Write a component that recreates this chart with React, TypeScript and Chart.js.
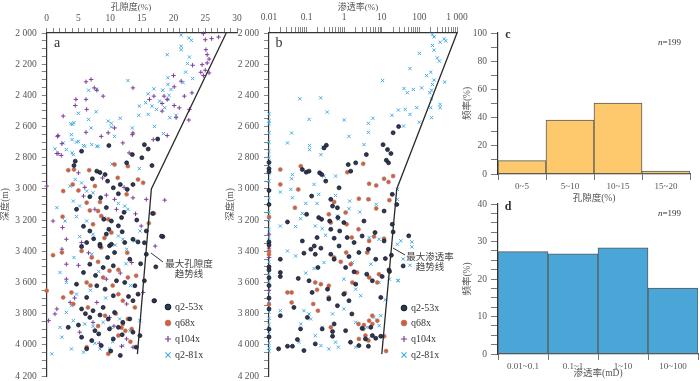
import React, { useEffect, useRef } from 'react';
import { Chart, registerables } from 'chart.js';
Chart.register(...registerables);

const FONT = '"Liberation Serif", "Times New Roman", "Noto Sans CJK SC", serif';

// ---------- data ----------
// panel a: [porosity %, depth m]
const aQ2_53x: number[][] = [[9.8,2722],[13.5,2780],[15.4,2716],[16,2744],[16.6,2850],[12.6,2833],[4.5,2822],[5.5,2758],[4.3,2850],[7.9,2886],[8.4,2895],[9.2,2908],[9.6,2950],[10.5,2993],[11.6,2972],[11.3,3031],[12.7,3003],[13.6,2972],[6.8,3050],[8.5,3057],[9.4,3120],[4.7,3131],[10.2,3206],[9.8,3259],[9,3195],[11.8,3184],[15.7,3270],[18.3,3306],[9.4,3290],[11.3,3237],[5.8,3240],[6.8,3270],[8.4,3355],[9.9,3365],[13.6,3323],[15.4,3345],[5.5,3370],[6.3,3344],[8.4,3366],[10.2,3355],[12.3,3344],[14.4,3340],[10.7,3408],[6.8,3483],[8.9,3504],[10.5,3493],[13.1,3451],[15.7,3419],[5.8,3536],[4.7,3611],[7.9,3621],[9.2,3643],[11,3589],[12.3,3600],[13.9,3621],[15.4,3589],[17,3717],[6.3,3696],[10.5,3685],[13.6,3717],[14.4,3675],[5.5,3770],[7.3,3781],[8.9,3760],[6.8,3824],[8.4,3809],[10.7,3792],[12,3856],[13.1,3834],[3.4,3888],[5,3873],[7.6,3909],[9.9,3898],[11.3,3888],[13.6,3919],[5.5,3951],[7.1,3973],[10.5,3962],[14.7,3941],[6.3,4026],[8.6,4005],[14.1,4015],[11.6,4068],[17.2,3500],[16.9,3718],[18.1,3303],[16.7,3157],[17.5,2680],[15,2800],[7.4,3320],[11.9,3275],[9.6,3440],[7.7,3555],[12.9,3690],[9.7,3835],[11.9,3935],[8.2,3930],[10.1,4040],[6.1,3800],[14.8,3480],[12.2,3150],[7.2,2935],[14.2,3200]];
const aQ68x: number[][] = [[3.4,2880],[4.3,2876],[6.7,2880],[10.7,2844],[11.2,2929],[12.8,2854],[14.4,2940],[15.2,2961],[2.6,3014],[4.1,2971],[5,3010],[7.6,2982],[12.6,3035],[8.4,3084],[6.3,3088],[2.5,3178],[6.8,3138],[8.1,3142],[8.6,3174],[9.7,3195],[7.3,3227],[10.2,3280],[8.6,3376],[16.9,3157],[16.1,3220],[1,3425],[2.4,3408],[5.5,3398],[8.1,3468],[8.9,3568],[9.9,3525],[11.3,3519],[12.8,3568],[6.3,3600],[6.9,3620],[3.9,3664],[2.6,3696],[12,3717],[11.3,3675],[4.2,3738],[6.5,3760],[9.2,3813],[12.8,3834],[12,3866],[13.4,3898],[6.3,4015],[11.3,3941],[0,3653],[14.1,3557],[9.7,4058],[11.8,3890],[12.4,3910],[10.9,3800],[13.9,3760],[9.1,3315],[12.7,3410],[7.1,3440],[10.4,3620],[13.2,3980],[8.1,3880]];
const aQ104x: number[][] = [[24.7,2004],[25,2043],[26,2036],[27.1,2026],[25.1,2107],[25.3,2139],[25.6,2167],[25.3,2192],[24.5,2203],[23,2207],[25,2239],[24.3,2252],[25.6,2256],[24.7,2273],[20,2273],[21.2,2309],[20.1,2345],[22.9,2384],[21.7,2405],[19,2426],[18.2,2452],[20.1,2465],[20.9,2480],[16.2,2426],[16.9,2405],[18.5,2405],[13.6,2352],[22.5,2490],[22.4,2558],[20.4,2543],[18.2,2501],[7,2298],[6.2,2426],[4.6,2426],[6.2,2313],[7.5,2352],[7.9,2367],[8.9,2405],[2.6,2533],[6.3,2490],[4.5,2465],[1.7,2663],[2.4,2710],[1.6,2773],[6.2,2637],[8.6,2663],[10.7,2609],[13.5,2652],[19,2658],[13,2769],[0,2982],[1.8,2658],[1.8,2773],[2.3,2785],[5,2897],[5.8,3046],[9.4,3040],[2.5,3248],[10.7,3067],[13.6,3057],[18.6,3072],[14.9,3238],[1,3206],[7.6,3131],[3.1,3323],[5.5,3344],[13.6,2641],[9.7,2640],[12,2705],[16.8,2684],[15.7,3067],[11,3131],[2.4,3387],[3.1,3483],[5,3490],[1.6,3770],[1.3,3802],[3.7,3728],[7.9,3728],[12.6,3738],[5.2,3919],[7.3,3856],[9.9,3824],[12.6,3962],[11.8,4009],[13.6,4015],[0.3,3845],[13.4,3472],[15.2,3664],[3.1,3579],[9.4,3579],[17.1,3367],[6,2990],[8.8,2930],[12.2,2990],[14,3160],[4.4,3700],[10.6,3880],[8.3,3990],[6.6,3410],[11.6,3540]];
const aQ2_81x: number[][] = [[21.2,2013],[21.2,2085],[21.2,2107],[22.4,2032],[22.8,2047],[19,2139],[22.5,2154],[22.2,2196],[19.1,2287],[23,2292],[21.9,2251],[21.5,2318],[19.1,2330],[19.6,2362],[18.3,2367],[16.9,2358],[16,2390],[19.3,2400],[19.1,2426],[15.6,2447],[14.6,2469],[16.6,2469],[17.8,2437],[18.6,2479],[17.3,2490],[14.5,2528],[16,2522],[12.8,2305],[6.6,2367],[7.9,2362],[5,2515],[4.3,2575],[6.6,2554],[7.8,2505],[9.7,2565],[10.2,2579],[11.6,2547],[19.4,2543],[20.4,2528],[4.1,2586],[3.8,2582],[7,2609],[10.2,2603],[4,2684],[2.6,2705],[1.3,2743],[4.7,2700],[5.8,2722],[7.9,2726],[4,2769],[18.4,2645],[17,2599],[13.5,2609],[3.9,2652],[5,2695],[3.1,2748],[4.2,2780],[6,2727],[7.1,2716],[8.1,2727],[10.7,2663],[4.5,2940],[5.5,2961],[3.7,2982],[6.3,3014],[7.3,3025],[1.6,3120],[4.2,3078],[5.2,3110],[11.3,3093],[12.3,3110],[12.8,3131],[4.7,3178],[6.3,3206],[2.9,3206],[11.3,3302],[14.7,3270],[12,3323],[5.2,3306],[7.3,3291],[2.1,3536],[3.1,3600],[4.7,3675],[3.9,3749],[3.1,3792],[2.1,3888],[4.2,3845],[6,3866],[7.3,3881],[8.9,3856],[10.2,3888],[11.5,3834],[2.4,3951],[0.8,4058],[3.9,4026],[5.8,4047],[8.4,4026],[9.9,4026],[12,4005],[13.1,3909],[14.7,3845],[5.5,3366],[7.1,3419],[12.6,3387],[13.9,3334],[14.6,2870],[10.3,2840],[8.2,3530],[12.5,3480],[9.1,3185],[10.8,3360],[4.3,3440],[6.9,3650],[9.3,3700],[13.2,3620],[10.4,3980],[7.6,3990]];
const aTrend: number[][] = [[28.3,2000],[16.5,3000],[14.3,4060]];

// panel b: [permeability, depth m]
const bQ2_53x: number[][] = [[0.335,2720],[0.29,2737],[3.88,2780],[10.8,2716],[14.2,2748],[17.5,2773],[13.2,2816],[15.1,2833],[2.02,2833],[1.28,2844],[1.49,2886],[0.077,2876],[0.098,2893],[0.116,2886],[0.222,2897],[0.253,2908],[0.323,2950],[0.73,2993],[0.136,3046],[0.44,3067],[0.49,3110],[0.66,3121],[0.1,3163],[0.031,3212],[0.21,3184],[0.25,3195],[0.41,3206],[0.44,3259],[0.68,3184],[0.98,3216],[3.35,3206],[6.6,3280],[11.5,3334],[0.76,3270],[0.19,3312],[0.077,3334],[0.54,3316],[1.83,3344],[0.16,3366],[0.24,3380],[1.2,3312],[3,3302],[19,3227],[19,3035],[11.5,3142],[0.73,3366],[0.02,3451],[0.02,3536],[0.02,3562],[0.02,3813],[0.018,4026],[0.031,4009],[0.042,4009],[0.085,3412],[0.13,3387],[0.17,3419],[0.2,3504],[0.44,3419],[0.54,3451],[1.09,3504],[1.34,3434],[2.46,3408],[4.4,3387],[6.9,3451],[12.4,3447],[1.83,3532],[2.02,3611],[3.98,3547],[5.6,3589],[0.36,3643],[0.39,3706],[0.98,3675],[1.34,3717],[0.66,3749],[0.14,3664],[0.046,3760],[0.105,3824],[0.069,3898],[0.26,3898],[0.54,3866],[0.49,3915],[0.49,3945],[1.09,3909],[1.47,3983],[3,3894],[5.1,3888],[5.6,3941],[2.46,4005],[3.67,3962],[4.4,4009],[6.9,3958],[9.4,3945],[0.057,3966],[0.085,4037],[0.17,3994],[1.6,3802],[0.06,3574],[0.116,3589],[10.2,3562],[9.4,3696],[0.01,2830],[0.01,2870],[0.01,2890],[0.01,3010],[0.01,3100],[0.01,3340],[0.01,3360],[0.01,3500],[0.01,3520],[0.01,3570],[0.01,3620],[0.01,3700],[0.01,3770],[0.01,3900],[0.01,3950],[20,2640],[28,2600],[15.5,3520],[18,3425],[16,3530],[20,3276],[52,3301],[37,3494],[25,3100]];
const bQ68x: number[][] = [[0.07,2854],[0.02,2876],[0.02,2971],[0.06,3003],[0.049,3121],[1.21,2893],[3.2,2839],[4.6,2967],[7.1,2978],[11.5,2935],[15.1,2956],[20,2918],[15.9,3072],[2.46,3063],[4.4,3067],[0.54,3084],[1.09,3152],[7.1,3125],[0.39,3163],[1.16,3227],[2.4,3259],[1.59,3312],[4.6,3334],[11.5,3319],[6.2,3306],[0.44,3216],[0.031,3664],[0.04,3664],[0.04,3728],[0.17,3600],[0.24,3611],[0.39,3621],[0.19,3647],[0.39,3696],[0.15,3738],[0.2,3781],[1.05,3668],[2.4,3866],[3.35,3873],[4.6,3845],[3.2,3898],[3.67,3941],[5.6,3866],[7.6,3845],[5.6,3813],[0.44,3888],[2.46,3962],[4.4,3973],[11.5,3945],[0.81,3468],[1.49,3483],[2.2,3536],[0.54,3440],[4.6,3568],[7.6,3600],[1.65,3600],[8.4,3547],[1.13,3408],[4.1,3408],[0.01,3180],[0.01,3400],[0.01,3420],[0.01,3740],[13,4040]];
const bQ104x: number[][] = [[0.01,3290],[0.01,3380],[0.01,3650],[0.01,3440]];
const bQ2_81x: number[][] = [[221,2008],[245,2025],[222,2080],[245,2110],[356,2059],[457,2038],[100,2131],[200,2251],[245,2302],[222,2330],[210,2367],[188,2383],[56,2228],[155,2273],[470,2315],[340,2181],[10.5,2305],[39,2356],[69,2362],[115,2352],[48,2383],[210,2422],[356,2458],[356,2479],[200,2479],[85,2479],[42,2490],[27.6,2494],[18.6,2528],[56,2522],[210,2543],[100,2572],[38,2597],[0.066,2422],[0.237,2416],[0.355,2507],[0.117,2554],[1,2558],[4.4,2579],[5.8,2547],[0.04,2641],[0.031,2705],[0.12,2722],[0.12,2748],[0.27,2731],[0.24,2780],[0.042,2908],[0.04,2935],[0.038,3003],[0.02,3020],[0.158,2971],[0.21,3035],[0.29,2918],[0.59,3042],[0.095,3093],[0.077,3157],[0.042,3057],[0.069,3191],[0.19,3093],[0.66,3174],[1.4,3078],[1.34,3127],[2.6,3148],[4.6,3067],[7.1,3099],[26,3003],[26,3067],[0.17,3238],[0.26,3255],[0.32,3297],[0.02,3238],[0.051,3242],[4.6,3312],[8.5,3323],[26,3355],[4.4,2637],[1.34,2663],[3.35,2716],[0.59,2918],[0.7,3195],[0.031,3398],[0.051,3430],[0.095,3540],[0.158,3510],[0.29,3472],[1.66,3472],[5.1,3483],[0.98,3579],[2.02,3643],[2.75,3685],[8.5,3600],[15.9,3579],[27,3589],[0.085,3781],[0.128,3834],[0.116,3802],[0.26,3888],[0.07,3866],[0.49,3802],[0.98,3770],[2.02,3856],[4,3888],[6.2,3824],[9.4,3813],[12.4,3711],[0.17,3941],[0.24,4005],[0.59,3983],[0.7,4015],[2.02,4015],[4.4,3962],[8.5,3877],[0.39,4026],[0.063,3983],[0.02,3781],[0.01,2520],[0.01,2565],[0.01,2580],[0.01,2640],[0.01,2700],[0.01,2760],[0.01,2800],[0.01,2860],[0.01,2900],[0.01,2950],[0.01,3060],[0.01,3150],[0.01,3200],[0.01,3260],[0.01,3310],[0.01,3350],[0.01,3470],[0.01,3550],[0.01,3600],[0.01,3660],[0.01,3720],[0.01,3790],[0.01,3830],[0.01,3870],[0.01,3930],[0.01,3990],[0.01,4020],[0.01,4040],[500,2050],[300,2160],[32,3333],[63,3340],[63,3372],[37,3450],[56,3490],[27,3586]];
const bTrend: number[][] = [[1000,2000],[25,3000],[10,4060]];

// histograms
const porosityBins = ['0~5', '5~10', '10~15', '15~20'];
const porosityFreq = [9.5, 38.2, 50.3, 2];
const permBins = ['0.01~0.1', '0.1~1', '1~10', '10~100'];
const permFreq = [27.3, 26.7, 28.3, 17.6];
const sampleCount = 199;

// tick positions
const depthMin = 2000, depthMax = 4200, depthMinorStep = 50, depthMajorStep = 200;
const porosityMin = 0, porosityMax = 30, porosityMajor = 5;
const permMin = 0.01, permMax = 1000;

// ---------- helpers ----------
const fmtK = (v: number) => {
  if (v >= 1000) {
    const th = Math.floor(v / 1000);
    const rest = Math.round(v % 1000);
    return `${th} ${String(rest).padStart(3, '0')}`;
  }
  return String(v);
};
const range = (a: number, b: number, s: number) => {
  const r: number[] = [];
  for (let v = a; v <= b + 1e-9; v += s) r.push(Math.round(v * 1000) / 1000);
  return r;
};
const logTicks = () => {
  const r: number[] = [];
  for (let e = Math.log10(permMin); e < Math.log10(permMax); e++) {
    for (let m = 1; m <= 9; m++) r.push(parseFloat((m * Math.pow(10, e)).toPrecision(6)));
  }
  r.push(permMax);
  return r;
};
const isPow10 = (v: number) => Math.abs(Math.log10(v) - Math.round(Math.log10(v))) < 1e-9;

const fixSize = (size: number) => (scale: any) => {
  if (scale.isHorizontal()) scale.height = size; else scale.width = size;
  scale.paddingLeft = 0; scale.paddingRight = 0; scale.paddingTop = 0; scale.paddingBottom = 0;
};
const setTicks = (vals: number[]) => (scale: any) => { scale.ticks = vals.map((value) => ({ value })); };

const pts = (arr: number[][]) => arr.map(([x, y]) => ({ x, y }));

const STYLES = [
  { label: 'q2-53x', pointStyle: 'circle', pointRadius: 2.0, backgroundColor: '#2b3760', borderColor: '#141414', borderWidth: 0.7 },
  { label: 'q68x', pointStyle: 'circle', pointRadius: 2.0, backgroundColor: '#e5582e', borderColor: '#8a8a8a', borderWidth: 0.6 },
  { label: 'q104x', pointStyle: 'cross', pointRadius: 2.2, backgroundColor: '#7e3d98', borderColor: '#7e3d98', borderWidth: 1.0 },
  { label: 'q2-81x', pointStyle: 'crossRot', pointRadius: 2.3, backgroundColor: '#45ace3', borderColor: '#45ace3', borderWidth: 1.0 },
];

function drawMarker(ctx: CanvasRenderingContext2D, s: any, x: number, y: number) {
  const r = s.pointRadius + 0.9;
  ctx.save();
  ctx.lineWidth = s.borderWidth + 0.2;
  ctx.strokeStyle = s.borderColor;
  ctx.fillStyle = s.backgroundColor;
  ctx.beginPath();
  if (s.pointStyle === 'circle') {
    ctx.arc(x, y, r, 0, Math.PI * 2);
    ctx.fill(); ctx.stroke();
  } else if (s.pointStyle === 'cross') {
    ctx.moveTo(x - r, y); ctx.lineTo(x + r, y); ctx.moveTo(x, y - r); ctx.lineTo(x, y + r); ctx.stroke();
  } else {
    const d = r * 0.8;
    ctx.moveTo(x - d, y - d); ctx.lineTo(x + d, y + d); ctx.moveTo(x + d, y - d); ctx.lineTo(x - d, y + d); ctx.stroke();
  }
  ctx.restore();
}

type Deco = {
  letter: { text: string; x: number; y: number; size: number; bold?: boolean };
  title?: { text: string; x: number; y: number };
  note?: { lines: string[]; x: number; y: number; lead: number[] };
  legend?: { mx: number; tx: number; ys: number[] };
  count?: { right: number; y: number };
};

function decoPlugin(d: Deco) {
  return {
    id: 'deco',
    afterDraw(chart: any) {
      const ctx: CanvasRenderingContext2D = chart.ctx;
      ctx.save();
      ctx.fillStyle = '#333';
      ctx.textBaseline = 'middle';
      ctx.textAlign = 'center';
      ctx.font = `${d.letter.bold ? 'bold ' : ''}${d.letter.size}px ${FONT}`;
      ctx.fillText(d.letter.text, d.letter.x, d.letter.y);
      if (d.title) {
        ctx.fillStyle = '#555';
        ctx.font = `9px ${FONT}`;
        ctx.fillText(d.title.text, d.title.x, d.title.y);
      }
      if (d.note) {
        ctx.fillStyle = '#444';
        ctx.font = `9.5px ${FONT}`;
        d.note.lines.forEach((l, i) => ctx.fillText(l, d.note!.x, d.note!.y + i * 10.5));
        ctx.strokeStyle = '#333';
        ctx.lineWidth = 1;
        ctx.beginPath();
        ctx.moveTo(d.note.lead[0], d.note.lead[1]);
        ctx.lineTo(d.note.lead[2], d.note.lead[3]);
        ctx.stroke();
      }
      if (d.legend) {
        const sets = chart.data.datasets.filter((s: any) => STYLES.some((st) => st.label === s.label));
        sets.forEach((s: any, i: number) => {
          const y = d.legend!.ys[i];
          drawMarker(ctx, s, d.legend!.mx, y);
          ctx.fillStyle = '#333';
          ctx.textAlign = 'left';
          ctx.font = `10px ${FONT}`;
          ctx.fillText(s.label, d.legend!.tx, y + 0.5);
        });
      }
      if (d.count) {
        ctx.fillStyle = '#333';
        ctx.textAlign = 'left';
        ctx.font = `9px ${FONT}`;
        const rest = `=${sampleCount}`;
        const wr = ctx.measureText(rest).width;
        ctx.font = `italic 9px ${FONT}`;
        const wn = ctx.measureText('n').width;
        const x0 = d.count.right - wr - wn;
        ctx.fillText('n', x0, d.count.y);
        ctx.font = `9px ${FONT}`;
        ctx.fillText(rest, x0 + wn, d.count.y);
      }
      ctx.restore();
    },
  };
}

const tickFont = { size: 9.5, family: FONT };
const titleFont = { size: 9.5, family: FONT };

function depthAxis(width: number) {
  return {
    type: 'linear', reverse: true, min: depthMin, max: depthMax, position: 'left',
    afterBuildTicks: setTicks(range(depthMin, depthMax, depthMinorStep)),
    afterFit: fixSize(width),
    ticks: { autoSkip: false, maxRotation: 0, padding: 5, font: tickFont, color: '#555',
      callback: (v: number) => (v % depthMajorStep === 0 ? fmtK(v) : '') },
    grid: { drawOnChartArea: false, tickLength: 5, color: '#666', lineWidth: 0.8 },
    border: { color: '#333', width: 1.2 },
    title: { display: true, text: '深度(m)', font: titleFont, color: '#555', padding: { top: 0, bottom: 0 } },
  };
}

function scatterConfig(series: number[][][], trend: number[][], xAxis: any, yWidth: number, padRight: number, deco: Deco) {
  const datasets: any[] = [
    { label: 'trend', data: pts(trend), showLine: true, pointRadius: 0, borderColor: '#2a2a2a', borderWidth: 1.3, fill: false, clip: false },
    ...series.map((s, i) => ({ ...STYLES[i], data: pts(s), clip: false })),
  ];
  return {
    type: 'scatter',
    data: { datasets },
    options: {
      animation: false, responsive: false, events: [],
      layout: { padding: { left: 0, top: 0, right: padRight, bottom: 4 } },
      plugins: { legend: { display: false }, tooltip: { enabled: false } },
      scales: { x: xAxis, y: depthAxis(yWidth) },
    },
    plugins: [decoPlugin(deco)],
  } as any;
}

function histConfig(labels: string[], values: number[], color: string, yMax: number, yStep: number, yLabelStep: number,
  xTitle: string, pad: any, xHeight: number, deco: Deco) {
  return {
    type: 'bar',
    data: { labels, datasets: [{ data: values, backgroundColor: color, borderColor: '#5a5a5a', borderWidth: 1, borderSkipped: false, categoryPercentage: 1, barPercentage: 1 }] },
    options: {
      animation: false, responsive: false, events: [],
      layout: { padding: pad },
      plugins: { legend: { display: false }, tooltip: { enabled: false } },
      scales: {
        x: {
          afterFit: fixSize(xHeight),
          grid: { offset: true, drawOnChartArea: false, tickLength: 6, color: '#555', lineWidth: 0.8 },
          border: { color: '#333', width: 1.2 },
          ticks: { font: { size: 9, family: FONT }, color: '#555', padding: 1, maxRotation: 0, autoSkip: false },
          title: { display: true, text: xTitle, font: titleFont, color: '#555', padding: { top: 0, bottom: 2 } },
        },
        y: {
          min: 0, max: yMax,
          afterBuildTicks: setTicks(range(0, yMax, yStep)),
          afterFit: fixSize(36),
          ticks: { autoSkip: false, font: tickFont, color: '#555', padding: 4,
            callback: (v: number) => (Math.abs(v % yLabelStep) < 1e-9 ? String(v) : '') },
          grid: { drawOnChartArea: false, tickLength: 7, color: '#555', lineWidth: 0.8 },
          border: { color: '#333', width: 1.2 },
          title: { display: true, text: '频率(%)', font: titleFont, color: '#555', padding: { top: 0, bottom: 0 } },
        },
      },
    },
    plugins: [decoPlugin(deco)],
  } as any;
}

export default function App() {
  const aRef = useRef<HTMLCanvasElement>(null);
  const bRef = useRef<HTMLCanvasElement>(null);
  const cRef = useRef<HTMLCanvasElement>(null);
  const dRef = useRef<HTMLCanvasElement>(null);

  useEffect(() => {
    Chart.defaults.font.family = FONT;
    Chart.defaults.color = '#555';

    const porosityAxis = {
      type: 'linear', position: 'top', min: porosityMin, max: porosityMax,
      afterBuildTicks: setTicks(range(porosityMin, porosityMax, 1)),
      afterFit: fixSize(33),
      ticks: { autoSkip: false, maxRotation: 0, padding: 4, font: tickFont, color: '#555',
        callback: (v: number) => (v % porosityMajor === 0 ? String(v) : '') },
      grid: { drawOnChartArea: false, tickLength: 5, color: '#666', lineWidth: 0.8 },
      border: { color: '#333', width: 1.2 },
    };
    const permAxis = {
      type: 'logarithmic', position: 'top', min: permMin, max: permMax,
      afterBuildTicks: setTicks(logTicks()),
      afterFit: fixSize(33),
      ticks: { autoSkip: false, maxRotation: 0, padding: 4, font: tickFont, color: '#555',
        callback: (v: number) => (isPow10(v) ? fmtK(v) : '') },
      grid: { drawOnChartArea: false, tickLength: 6, color: '#666', lineWidth: 0.8 },
      border: { color: '#333', width: 1.2 },
    };

    const charts = [
      new Chart(aRef.current!, scatterConfig([aQ2_53x, aQ68x, aQ104x, aQ2_81x], aTrend, porosityAxis, 46.7, 8, {
        letter: { text: 'a', x: 57, y: 43, size: 14 },
        title: { text: '孔隙度(%)', x: 131, y: 8 },
        note: { lines: ['最大孔隙度', '趋势线'], x: 189, y: 264, lead: [151, 253, 163, 262] },
        legend: { mx: 168, tx: 175, ys: [307, 323, 339, 355] },
      })),
      new Chart(bRef.current!, scatterConfig([bQ2_53x, bQ68x, bQ104x, bQ2_81x], bTrend, permAxis, 44, 13, {
        letter: { text: 'b', x: 54, y: 43, size: 14 },
        title: { text: '渗透率(%)', x: 133, y: 8 },
        note: { lines: ['最大渗透率', '趋势线'], x: 205, y: 257, lead: [168, 248, 180, 255] },
        legend: { mx: 179, tx: 186, ys: [308, 323, 339, 355] },
      })),
      new Chart(cRef.current!, histConfig(porosityBins, porosityFreq, '#fdc96c', 100, 10, 20, '孔隙度(%)',
        { top: 13, right: 10, left: 0, bottom: 0 }, 32, {
          letter: { text: 'c', x: 46, y: 15, size: 12, bold: true },
          count: { right: 219, y: 23 },
        })),
      new Chart(dRef.current!, histConfig(permBins, permFreq, '#4aa6d6', 40, 2.5, 10, '渗透率(mD)',
        { top: 14, right: 2, left: 0, bottom: 0 }, 27, {
          letter: { text: 'd', x: 46, y: 17, size: 12, bold: true },
          count: { right: 219, y: 24 },
        })),
    ];
    return () => charts.forEach((c) => c.destroy());
  }, []);

  const pos = (l: number, t: number): React.CSSProperties => ({ position: 'absolute', left: l, top: t });
  return (
    <div style={{ position: 'absolute', left: 0, top: 0, width: 700, height: 381, background: '#fff', overflow: 'hidden' }}>
      <canvas ref={aRef} width={245} height={381} style={pos(0, 0)} />
      <canvas ref={bRef} width={245} height={381} style={pos(225, 0)} />
      <canvas ref={cRef} width={238} height={186} style={pos(462, 20)} />
      <canvas ref={dRef} width={238} height={191} style={pos(462, 190)} />
    </div>
  );
}
